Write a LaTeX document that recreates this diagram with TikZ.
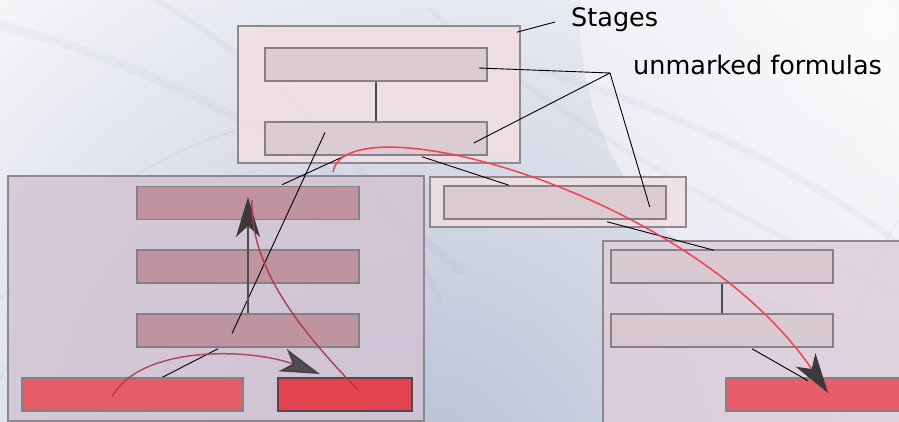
\documentclass[tikz,border=0pt]{standalone}
\usepackage{fontspec}
\setmainfont{DejaVu Sans}
\usetikzlibrary{arrows.meta,calc}

\definecolor{bgblue}{HTML}{B7BFD5}
\definecolor{bgedge}{HTML}{F6F6F9}
\definecolor{swoosh}{HTML}{8E98B8}
\definecolor{framegray}{HTML}{858085}
\definecolor{stagefill}{HTML}{F2DEE3}
\definecolor{slotfill}{HTML}{D9C8CF}
\definecolor{lowfill}{HTML}{D3C2D3}
\definecolor{mauve}{HTML}{BC8C97}
\definecolor{redA}{HTML}{E85862}
\definecolor{redB}{HTML}{E63C47}
\definecolor{flowdark}{HTML}{A83A48}
\definecolor{flowbright}{HTML}{F0434F}
\definecolor{tipgray}{HTML}{3C383C}

\tikzset{
  stagebox/.style={draw=framegray, line width=1.5pt, fill=stagefill, fill opacity=0.8,
    draw opacity=0.9, inner sep=0pt, rectangle},
  lowbox/.style={stagebox, fill=lowfill},
  slot/.style={draw=framegray, line width=1.5pt, fill=slotfill, fill opacity=0.85,
    inner sep=0pt, rectangle, minimum width=222pt, minimum height=33pt},
  mauveslot/.style={slot, fill=mauve},
  redslot/.style={draw=framegray, line width=1.5pt, inner sep=0pt, rectangle,
    minimum height=33pt, fill opacity=0.95},
  leader/.style={black, line width=0.9pt},
  link/.style={draw=black!70, line width=1.5pt},
  bigtip/.style={-{Stealth[length=40pt, width=24pt, color=tipgray, inset=11pt]}},
  label/.style={font=\fontsize{25.5}{30}\selectfont, anchor=west, inner sep=0pt},
}

\begin{document}
\begin{tikzpicture}[x=1pt, y=-1pt]
  \useasboundingbox (0,0) rectangle (899,422);
  \clip (0,0) rectangle (899,422);

  % backdrop: soft blue-grey glow fading to white towards the top right
  \fill[bgedge] (0,0) rectangle (899,422);
  \shade[inner color=bgblue, outer color=bgedge] (420,480) circle (640);
  \shade[inner color=white, outer color=bgedge, opacity=0.6] (880,20) circle (300);
  % faint swooshes
  \begin{scope}[swoosh, line cap=round]
    \draw[line width=9pt, opacity=0.07] (-20,20) .. controls (150,60) and (320,150) .. (460,270);
    \draw[line width=6pt, opacity=0.08] (140,-10) .. controls (260,60) and (380,160) .. (440,300);
    \draw[line width=7pt, opacity=0.07] (540,70) .. controls (700,120) and (820,180) .. (920,260);
    \draw[line width=5pt, opacity=0.07] (430,10) .. controls (560,120) and (700,200) .. (910,300);
    \draw[line width=1pt, opacity=0.15] (0,380) .. controls (60,250) and (150,190) .. (260,170);
    \draw[line width=1pt, opacity=0.15] (0,300) .. controls (80,200) and (170,140) .. (280,120);
    \draw[line width=1pt, opacity=0.15] (840,422) .. controls (850,330) and (870,260) .. (899,220);
  \end{scope}

  % top stage
  \node[stagebox, minimum width=282pt, minimum height=137pt] (stage) at (379,94.5) {};
  \node[slot] (a1) at (376,64.5) {};
  \node[slot] (a2) at (376,138.5) {};
  \draw[link] (a1.south) -- (a2.north);

  % lower-left stage
  \node[lowbox, minimum width=416pt, minimum height=245pt] (left) at (216,298.5) {};
  \node[mauveslot] (b1) at (248,203) {};
  \node[mauveslot] (b2) at (248,266.5) {};
  \node[mauveslot] (b3) at (248,330.5) {};
  \node[redslot, fill=redA, minimum width=221pt] (r1) at (132.5,394.5) {};
  \node[redslot, fill=redB, draw=black!70, minimum width=134pt] (r2) at (345,394.5) {};

  % middle stage
  \node[stagebox, minimum width=256pt, minimum height=50pt] (mid) at (558,202) {};
  \node[slot] (m1) at (555,202.5) {};

  % right stage
  \node[stagebox, fill=lowfill!60!stagefill, minimum width=302pt, minimum height=184pt] (right) at (754,333) {};
  \node[slot] (c1) at (722,266.5) {};
  \node[slot] (c2) at (722,330.5) {};
  \node[redslot, fill=redA, minimum width=179pt] (r3) at (815.5,394.5) {};
  \draw[link] (c1.south) -- (c2.north);

  % labels
  \node[label] (lstages) at (571,20) {Stages};
  \node[label] (lformulas) at (633,65) {unmarked formulas};
  \coordinate (hub) at (610,73);
  \coordinate (hubS) at (555,22);
  \draw[leader] (hubS) -- ($(stage.north east)+(-4,7)$);
  \draw[leader] (hub) -- ($(a1.east)+(-9,3.5)$);
  \draw[leader] (hub) -- ($(a2.east)+(-14,4.5)$);
  \draw[leader] (hub) -- ($(m1.east)+(-17,4.5)$);

  % stage-to-stage links
  \draw[leader] ($(a2.south)+(-33,1)$) -- ($(b1.north)+(34,-1)$);
  \draw[leader] ($(a2.south)+(46,1)$) -- ($(m1.north)+(-46,0)$);
  \draw[leader] ($(m1.south)+(52,2)$) -- ($(c1.north)+(-8,1)$);
  \draw[leader] ($(a2.center)+(-51,-6)$) -- ($(b3.center)+(-16,3)$);
  \draw[leader] ($(b3.south)+(-30,1)$) -- ($(r1.north)+(30,0)$);
  \draw[leader] ($(c2.south)+(30,1)$) -- ($(c2.south)+(86,33)$);

  % flows
  \draw[link, bigtip] (b3.north -| 248,0) -- (248,197);
  \draw[flowdark, line width=1.5pt, opacity=0.85, bigtip]
    (112,397) .. controls (140,345) and (250,348) .. (320,374);
  \draw[flowdark, line width=1.5pt, opacity=0.9]
    (358,390) .. controls (295,325) and (250,265) .. (252,200);
  \draw[flowbright, line width=1.5pt, bigtip]
    (333,172) .. controls (345,100) and (690,190) .. (828,393);
\end{tikzpicture}
\end{document}
